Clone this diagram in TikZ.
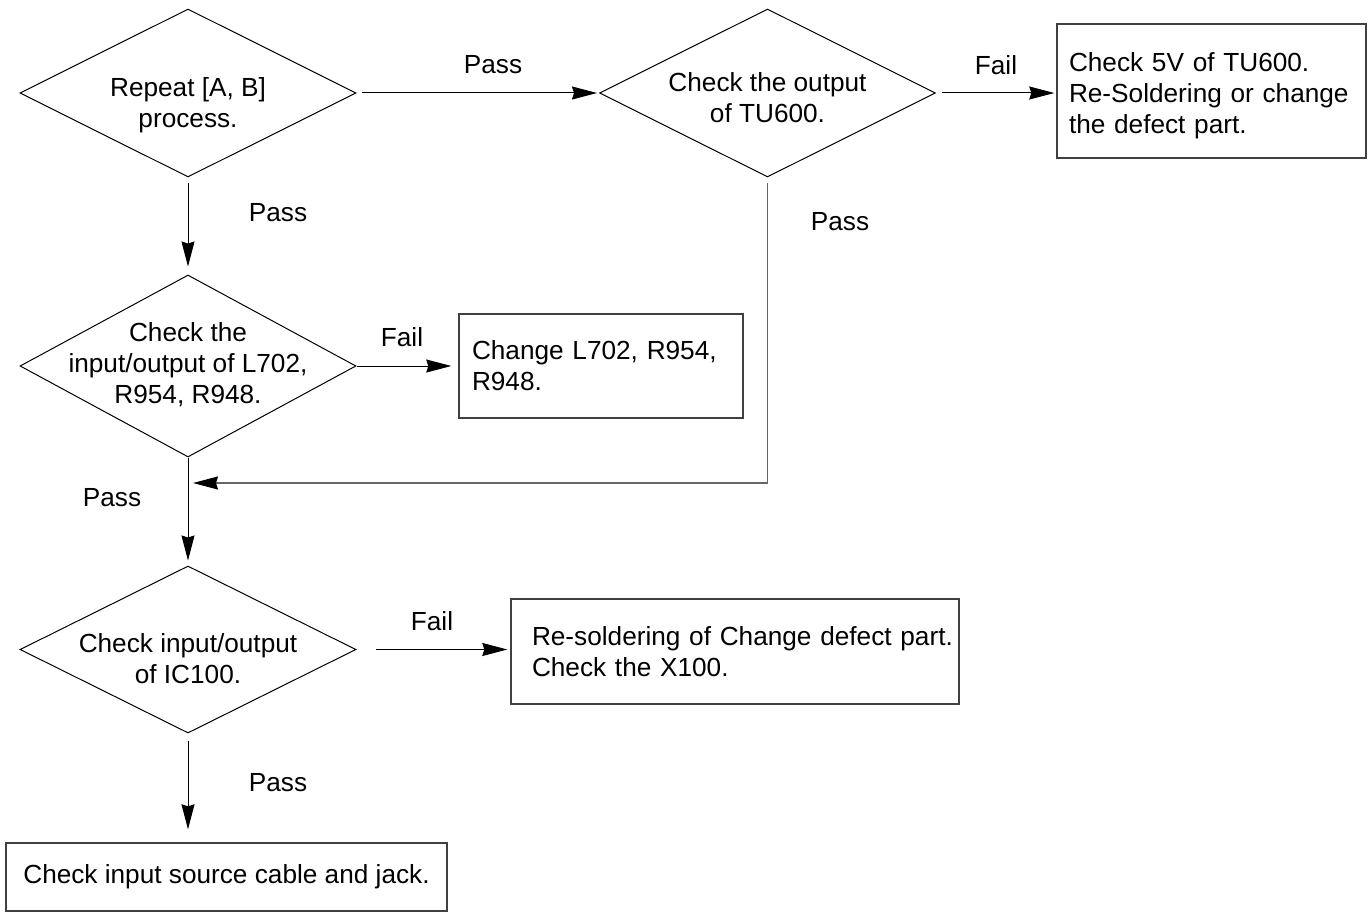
\documentclass[tikz,border=0pt]{standalone}
\usepackage{fontspec}
\setmainfont{Liberation Sans}
\usetikzlibrary{shapes.geometric,arrows.meta}
\begin{document}
\begin{tikzpicture}[x=1pt,y=-1pt,
  every node/.style={font=\fontsize{26.2}{31}\selectfont},
  decision/.style={shape=diamond,draw=black,line width=1pt,inner sep=0pt,
    minimum width=336pt,minimum height=168pt},
  dtext/.style={align=center,inner sep=0pt},
  action/.style={draw=black!75,line width=1.4pt,align=left,inner ysep=0pt},
  lbl/.style={inner sep=0pt},
  flow/.style={draw=black,line width=1pt,
    -{Stealth[length=25pt,width=13pt,inset=2pt]}},
  back/.style={draw=black!60,line width=1.6pt,
    -{Stealth[length=25pt,width=13pt,inset=2pt,color=black]}}]
\useasboundingbox (0,0) rectangle (1369,912);

% decisions
\node[decision] (d1) at (188,93) {};
\node[dtext] (d1t) at (188,105) {Repeat [A, B]\\process.};
\node[decision] (d2) at (767.5,93) {};
\node[dtext] (d2t) at (767.5,98) {Check the output\\of TU600.};
\node[decision,minimum height=182pt] (d3) at (188,366) {};
\node[dtext] (d3t) at (188,365) {Check the\\input/output of L702,\\R954, R948.};
\node[decision,minimum height=167pt] (d4) at (188,649.5) {};
\node[dtext] (d4t) at (188,659) {Check input/output\\of IC100.};

% actions
\node[action,inner xsep=12pt,text width=285pt,minimum height=134pt]
  (b1) at (1211.5,91) {\rule{0pt}{28pt}Check 5V of TU600.\\Re-Soldering or change\\the defect part.};
\node[action,inner xsep=13pt,text width=258pt,minimum height=104pt]
  (b2) at (601,366) {Change L702, R954,\\R948.};
\node[action,inner xsep=21pt,text width=406pt,minimum height=105pt]
  (b3) at (735,651.5) {\mbox{Re-soldering of Change defect part.}\\Check the X100.};
\node[action,align=center,minimum width=441pt,minimum height=68pt]
  (b4) at (226.5,877) {Check input source cable and jack.};

% connectors
\draw[flow,shorten <=5pt,shorten >=2pt] (d1.east) -- (d2.west);
\draw[flow,shorten <=6pt,shorten >=2pt] (d2.east) -- (b1.west |- d2.east);
\draw[flow,shorten <=6pt,shorten >=8pt] (d1.south) -- (d3.north);
\draw[flow,shorten >=7pt] (d3.east) -- (b2.west |- d3.east);
\draw[flow,shorten >=5pt] (d3.south) -- (d4.north);
\coordinate (join) at (188,483);
\draw[back,shorten <=6pt,shorten >=5pt] (d2.south) |- (join);
\draw[flow,shorten <=19pt,shorten >=3pt] (d4.east) -- (b3.west |- d4.east);
\draw[flow,shorten <=7pt,shorten >=13pt] (d4.south) -- (d4.south |- b4.north);

% branch labels
\node[lbl] (p1) at (493,65) {Pass};
\node[lbl] (f1) at (996,65) {Fail};
\node[lbl] (p2) at (278,213) {Pass};
\node[lbl] (p3) at (840,222) {Pass};
\node[lbl] (f2) at (402,337) {Fail};
\node[lbl] (p4) at (112,498) {Pass};
\node[lbl] (f3) at (432,621) {Fail};
\node[lbl] (p5) at (278,783) {Pass};
\end{tikzpicture}
\end{document}
